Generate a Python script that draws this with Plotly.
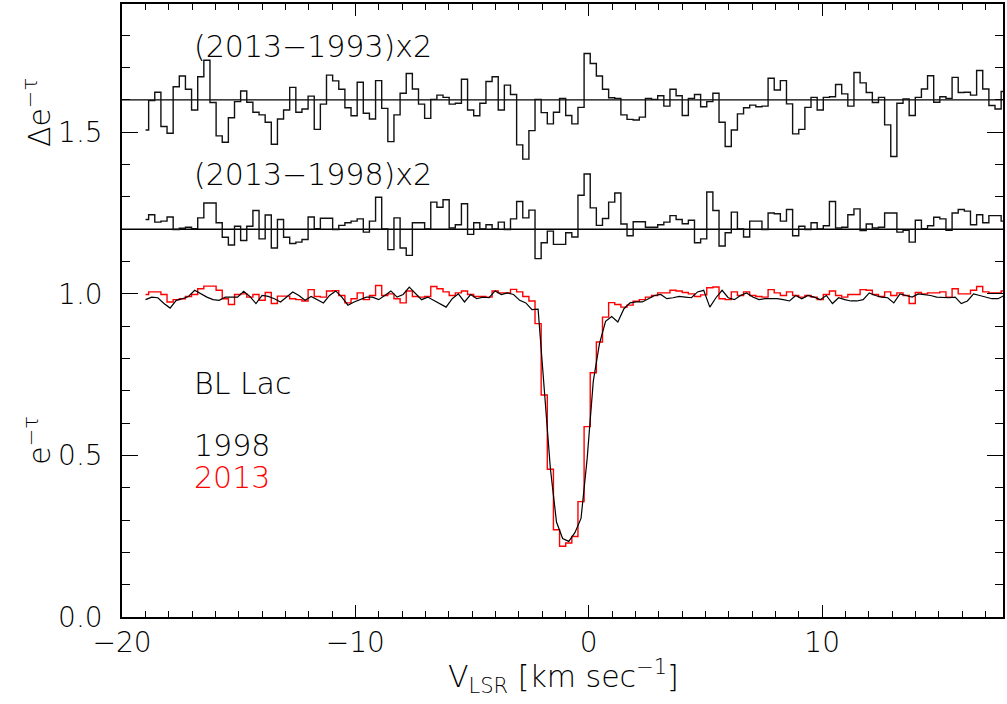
import numpy as np
import plotly.graph_objects as go

# velocity grid (km/s)
V0 = -18.99
DV = 0.2628
N_CHAN = 141
vel = V0 + DV * np.arange(N_CHAN)

# (2013-1993)x2 deviations, plotted around offset 1.6
diff_93 = [
    -0.093, -0.002, 0.024, -0.082, -0.103, 0.041, 0.074, 0.033, -0.031, 0.072,
    0.123, -0.008, -0.111, -0.131, -0.055, -0.005, 0.028, -0.007, -0.038, -0.046,
    -0.069, -0.137, -0.059, -0.031, 0.039, -0.038, -0.028, 0.012, -0.091, -0.013,
    0.077, 0.059, 0.033, -0.024, -0.049, 0.055, -0.041, -0.059, 0.060, -0.026,
    -0.129, -0.046, 0.021, 0.082, 0.034, -0.013, -0.057, 0.002, 0.015, 0.008,
    -0.013, -0.010, 0.064, -0.031, -0.049, -0.010, 0.057, 0.072, -0.031, 0.046,
    0.017, -0.139, -0.183, -0.095, 0.002, -0.039, -0.074,
    -0.038, 0.005, -0.048, -0.074, -0.023, 0.144, 0.113, 0.074, 0.033, 0.007,
    0.005, -0.046, -0.060, -0.062, -0.053, 0.005, 0.002, 0.013, -0.019, 0.033,
    0.013, -0.048, 0.005, 0.017, -0.021, -0.005, 0.021, -0.069, -0.144, -0.093,
    -0.043, -0.024, -0.016, -0.021, -0.019, 0.067, 0.031, 0.060, -0.012, -0.105,
    -0.091, -0.023, 0.008, -0.031, 0.008, 0.010, 0.048, 0.019, -0.019, 0.085,
    0.053, 0.023, -0.008, 0.008, -0.077, -0.175, -0.010, 0.003, -0.048, 0.008,
    0.034, 0.075, -0.007, 0.010, 0.005, 0.070, 0.023, 0.024, 0.015, 0.091,
    0.034, -0.017, -0.028, 0.026,
]
OFFSET_93 = 1.6

# (2013-1998)x2 deviations, plotted around offset 1.2
diff_98 = [
    0.030, 0.045, 0.022, 0.025, 0.038, -0.001, 0.003, 0.006, 0.002, 0.035,
    0.081, 0.081, 0.020, -0.025, -0.049, 0.009, -0.035, 0.009, 0.058, -0.030,
    0.044, -0.058, 0.030, -0.025, -0.044, -0.040, -0.032, 0.038, 0.002, 0.034,
    0.034, -0.001, 0.012, 0.020, 0.025, 0.032, -0.009, 0.025, 0.099, 0.001,
    -0.063, 0.035, -0.058, -0.081, 0.020, 0.020, 0.001, 0.084, 0.068, 0.091,
    0.004, 0.014, 0.079, -0.016, 0.020, 0.001, 0.014, 0.001, 0.022, -0.001,
    0.032, 0.086, 0.035, 0.059, -0.091, -0.042, -0.006,
    -0.047, -0.047, -0.011, -0.024, 0.105, 0.171, 0.066, 0.012, 0.033, 0.084,
    0.112, 0.016, -0.020, 0.023, 0.023, 0.006, 0.006, 0.014, 0.022, 0.042,
    0.030, 0.017, 0.028, -0.042, -0.030, 0.115, 0.058, -0.052, -0.011, 0.053,
    0.001, -0.024, 0.025, 0.025, -0.001, 0.050, 0.048, 0.025, 0.061, -0.020,
    0.009, -0.001, 0.020, 0.001, 0.011, 0.086, 0.004, 0.006, 0.045, 0.063,
    -0.004, 0.016, 0.004, 0.006, 0.050, 0.050, -0.009, -0.003, -0.040, 0.028,
    0.002, 0.011, 0.037, 0.032, -0.003, 0.050, 0.061, 0.056, 0.014, 0.045,
    0.020, 0.042, 0.042, 0.025,
]
OFFSET_98 = 1.2

# e^-tau, 2013 (red histogram)
etau_2013 = [
    0.998, 1.006, 1.006, 0.998, 0.975, 0.982, 0.985, 0.992, 0.998, 1.016,
    1.024, 1.024, 1.011, 0.985, 0.967, 0.998, 1.000, 0.990, 0.998, 0.980,
    1.004, 0.970, 0.993, 0.993, 0.985, 0.982, 0.978, 1.013, 0.992, 0.990,
    1.009, 1.010, 0.995, 0.972, 0.985, 1.003, 0.982, 0.995, 1.026, 0.995,
    1.000, 0.985, 0.972, 1.009, 0.992, 0.990, 0.992, 1.023, 1.016, 1.006,
    0.995, 1.003, 1.009, 0.998, 0.992, 0.992, 0.990, 1.009, 1.003, 1.003,
    1.014, 1.006, 0.992, 0.978, 0.908, 0.687, 0.457, 0.270, 0.219, 0.229,
    0.249, 0.357, 0.589, 0.756, 0.851, 0.928, 0.973, 0.967, 0.959, 0.965,
    0.977, 0.982, 0.990, 0.995, 1.003, 1.003, 1.011, 1.009, 1.004, 1.000,
    0.992, 0.997, 1.019, 1.021, 0.985, 0.982, 1.006, 0.995, 1.006, 0.995,
    0.992, 0.990, 1.013, 1.003, 0.995, 1.006, 0.995, 0.990, 0.995, 0.990,
    0.982, 0.998, 1.009, 0.995, 0.990, 0.998, 0.998, 1.013, 1.011, 0.998,
    0.992, 1.006, 0.995, 1.003, 0.995, 0.970, 1.004, 1.000, 1.003, 1.003,
    1.006, 0.990, 1.016, 1.000, 1.000, 1.011, 1.023, 1.006, 1.003, 1.003,
    1.009,
]

# e^-tau, 1998 (black line)
etau_1998 = [
    0.982, 0.990, 0.988, 0.970, 0.956, 0.980, 0.985, 0.992, 1.011, 1.000,
    0.990, 0.982, 0.980, 0.990, 0.990, 0.990, 1.008, 0.992, 0.970, 0.995,
    0.992, 0.985, 0.975, 0.990, 1.006, 0.995, 0.980, 0.992, 0.982, 0.972,
    0.995, 1.009, 0.990, 0.965, 0.975, 0.982, 0.990, 0.990, 0.982, 0.995,
    1.009, 0.990, 0.998, 1.021, 1.000, 0.982, 0.990, 0.980, 0.970, 0.959,
    0.985, 1.000, 0.975, 0.998, 0.985, 0.990, 0.988, 1.009, 0.998, 1.003,
    0.998, 0.980, 0.972, 0.951, 0.953, 0.708, 0.460, 0.294, 0.243, 0.234,
    0.261, 0.305, 0.490, 0.730, 0.845, 0.915, 0.930, 0.913, 0.954, 0.972,
    0.975, 0.975, 0.985, 0.995, 0.998, 0.985, 0.988, 0.992, 0.990, 0.988,
    1.006, 1.011, 0.959, 0.988, 1.011, 0.988, 0.982, 0.995, 1.003, 0.990,
    0.982, 0.985, 0.985, 0.985, 0.982, 0.978, 0.995, 0.985, 0.995, 0.990,
    0.982, 0.995, 0.970, 0.988, 0.982, 0.978, 0.978, 0.982, 1.003, 0.995,
    0.990, 0.988, 0.972, 1.000, 0.995, 0.990, 1.000, 0.998, 0.995, 0.990,
    0.988, 0.988, 0.990, 0.970, 0.978, 1.000, 0.995, 0.990, 0.985, 0.985,
    0.995,
]

X_RANGE = [-20, 17.75]
Y_RANGE = [0, 1.897]
FONT = "DejaVu Sans Light, DejaVu Sans ExtraLight, DejaVu Sans"
WEIGHT = 200

fig = go.Figure()

# reference (zero) lines for the difference spectra
for off in (OFFSET_93, OFFSET_98):
    fig.add_trace(go.Scatter(x=X_RANGE, y=[off, off], mode="lines",
                             line=dict(color="black", width=1.3),
                             hoverinfo="skip", showlegend=False))

fig.add_trace(go.Scatter(x=vel, y=OFFSET_93 + np.array(diff_93), mode="lines",
                         line=dict(color="#111111", width=1.4, shape="hvh"),
                         showlegend=False))
fig.add_trace(go.Scatter(x=vel, y=OFFSET_98 + np.array(diff_98), mode="lines",
                         line=dict(color="#111111", width=1.4, shape="hvh"),
                         showlegend=False))
fig.add_trace(go.Scatter(x=vel, y=etau_2013, mode="lines",
                         line=dict(color="#ff0000", width=1.4, shape="hvh"),
                         showlegend=False))
fig.add_trace(go.Scatter(x=vel, y=etau_1998, mode="lines",
                         line=dict(color="black", width=1.2),
                         showlegend=False))

axis_common = dict(
    showgrid=False, zeroline=False, showline=True, linecolor="black",
    linewidth=1.5, mirror="ticks", ticks="inside", tickcolor="black",
    tickwidth=1.3,
    tickfont=dict(family=FONT, size=28, color="black", weight=WEIGHT),
)

fig.update_xaxes(range=X_RANGE, tick0=-20, dtick=10, ticklen=12,
                 minor=dict(dtick=1, ticklen=6, ticks="inside",
                            tickcolor="black", tickwidth=1.2),
                 ticklabelstandoff=0, **axis_common)
fig.update_yaxes(range=Y_RANGE, tick0=0, dtick=0.5, tickformat=".1f",
                 ticklen=16,
                 minor=dict(dtick=0.1, ticklen=8, ticks="inside",
                            tickcolor="black", tickwidth=1.2),
                 ticklabelstandoff=12, **axis_common)

ann_font = dict(family=FONT, size=30, color="black", weight=WEIGHT)
texts = [
    ("(2013\u22121993)x2", -17.0, 1.764, "black"),
    ("(2013\u22121998)x2", -17.0, 1.369, "black"),
    ("BL Lac", -17.0, 0.724, "black"),
    ("1998", -17.0, 0.532, "black"),
    ("2013", -17.0, 0.431, "#ff0000"),
]
for t, x, y, c in texts:
    fig.add_annotation(x=x, y=y, xref="x", yref="y", text=t, showarrow=False,
                       xanchor="left", yanchor="middle",
                       font=dict(family=FONT, size=30, color=c, weight=WEIGHT))

fig.add_annotation(x=-0.095, y=0.8225, xref="paper", yref="paper",
                   text="\u0394e<sup>\u2212\u03c4</sup>", textangle=-90,
                   showarrow=False, xanchor="center", yanchor="middle",
                   font=ann_font)
fig.add_annotation(x=-0.095, y=0.288, xref="paper", yref="paper",
                   text="e<sup>\u2212\u03c4</sup>", textangle=-90,
                   showarrow=False, xanchor="center", yanchor="middle",
                   font=ann_font)
fig.add_annotation(x=0.5017, y=-0.097, xref="paper", yref="paper",
                   text="V<sub>LSR</sub> [km sec<sup>\u22121</sup>]",
                   showarrow=False, xanchor="center", yanchor="middle",
                   font=ann_font)

fig.update_layout(width=1007, height=704,
                  margin=dict(l=122, r=2, t=3, b=87),
                  paper_bgcolor="white", plot_bgcolor="white",
                  showlegend=False)

fig.write_html("out.html",
               config={"displayModeBar": False},
               post_script="document.body.style.margin='0px';"
                           "document.body.style.padding='0px';")
